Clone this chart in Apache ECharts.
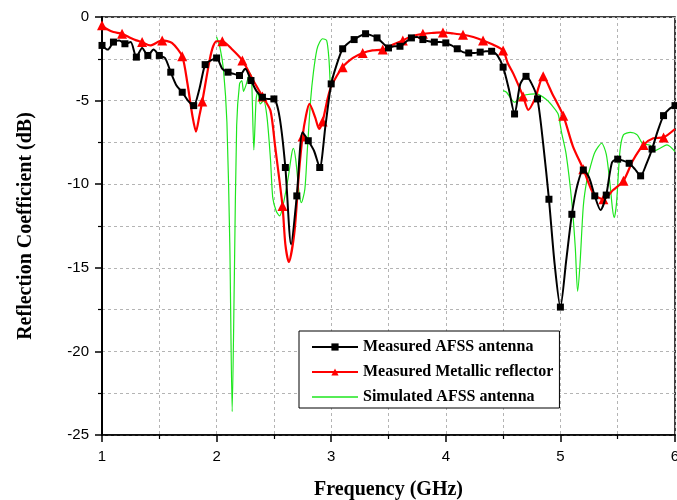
<!DOCTYPE html>
<html lang="en">
<head>
    <meta charset="UTF-8">
    <title>Reflection Coefficient</title>
    <script src="https://cdn.jsdelivr.net/npm/echarts@6/dist/echarts.min.js"></script>
    <style>
        html, body { margin: 0; padding: 0; background: #fff; }
    </style>
</head>
<body>
<div style="height: 500px;width: 677px" id="container"></div>
<script>
    // Measured AFSS antenna: 1.0 .. 6.0 GHz every 0.05, square marker every 0.1
    var blackStart = 1.0, blackStep = 0.05;
    var blackVal = [
        -1.7, -1.95, -1.5, -1.4, -1.6, -1.5, -2.4, -1.85, -2.3, -1.95,
        -2.3, -2.45, -3.3, -4.1, -4.5, -5.0, -5.3, -4.3, -2.85, -2.6,
        -2.45, -3.1, -3.3, -3.4, -3.5, -3.1, -3.8, -4.45, -4.8, -4.9,
        -4.9, -6.0, -9.0, -13.6, -10.7, -6.9, -7.4, -8.0, -9.0, -6.5,
        -4.0, -2.8, -1.9, -1.55, -1.35, -1.15, -1.0, -1.1, -1.25, -1.55,
        -1.85, -1.75, -1.75, -1.5, -1.25, -1.2, -1.35, -1.45, -1.5, -1.5,
        -1.55, -1.7, -1.9, -2.1, -2.15, -2.15, -2.1, -2.05, -2.05, -2.3,
        -3.0, -4.3, -5.8, -4.0, -3.55, -4.0, -4.9, -7.6, -10.9, -14.8,
        -17.35, -14.6, -11.8, -10.0, -9.15, -9.6, -10.7, -11.55, -10.65, -8.7,
        -8.5, -8.6, -8.75, -9.1, -9.5, -8.8, -7.9, -6.8, -5.9, -5.5,
        -5.3
    ];

    // Measured Metallic reflector, triangle marker every 0.175 GHz
    var redFreq = [
        1.0, 1.05, 1.1, 1.175, 1.25, 1.3, 1.35, 1.42, 1.525, 1.61,
        1.7, 1.745, 1.79, 1.82, 1.85, 1.875, 1.94, 1.97, 2.0, 2.05,
        2.13, 2.225, 2.32, 2.4, 2.47, 2.51, 2.575, 2.6, 2.63, 2.68,
        2.72, 2.75, 2.78, 2.81, 2.86, 2.895, 2.925, 2.97, 3.0, 3.1,
        3.19, 3.275, 3.36, 3.45, 3.54, 3.625, 3.7, 3.8, 3.89, 3.975,
        4.06, 4.15, 4.24, 4.325, 4.41, 4.5, 4.54, 4.59, 4.675, 4.72,
        4.78, 4.85, 4.93, 5.025, 5.11, 5.2, 5.29, 5.375, 5.46, 5.55,
        5.635, 5.725, 5.81, 5.9, 6.0
    ];
    var redVal = [
        -0.5, -0.75, -0.9, -1.0, -1.25, -1.4, -1.5, -1.7, -1.4, -1.55,
        -2.35, -3.95, -5.95, -6.85, -5.9, -5.05, -2.55, -1.75, -1.45, -1.45,
        -1.9, -2.6, -3.8, -4.75, -5.6, -7.7, -11.3, -13.6, -14.65, -12.8,
        -9.2, -7.15, -5.9, -5.2, -6.0, -6.7, -6.25, -4.85, -4.15, -3.0,
        -2.45, -2.15, -2.0, -1.95, -1.65, -1.4, -1.15, -1.0, -0.95, -0.92,
        -0.98, -1.06, -1.2, -1.4, -1.65, -2.0, -2.75, -3.4, -4.75, -5.55,
        -4.85, -3.55, -4.6, -5.9, -7.75, -9.1, -10.6, -10.9, -10.35, -9.8,
        -8.55, -7.65, -7.25, -7.2, -6.7
    ];

    // Simulated AFSS antenna ('-' marks the gap between 3.0 and 4.5 GHz)
    var greenFreq = [
        2.0, 2.03, 2.06, 2.09, 2.115, 2.136, 2.155, 2.175, 2.2, 2.22,
        2.235, 2.26, 2.29, 2.305, 2.325, 2.345, 2.36, 2.38, 2.41, 2.44,
        2.47, 2.49, 2.52, 2.55, 2.58, 2.625, 2.655, 2.67, 2.69, 2.72,
        2.74, 2.77, 2.79, 2.82, 2.845, 2.875, 2.9, 2.925, 2.96, 2.98,
        2.99, 3.5,
        4.5, 4.53, 4.6, 4.65, 4.7, 4.79, 4.88, 4.94, 4.98, 5.01,
        5.05, 5.1, 5.13, 5.15, 5.17, 5.2, 5.23, 5.26, 5.3, 5.36,
        5.4, 5.43, 5.455, 5.47, 5.49, 5.52, 5.55, 5.61, 5.67, 5.72,
        5.78, 5.82, 5.87, 5.93, 6.0
    ];
    var greenVal = [
        -1.2, -1.85, -3.15, -6.3, -13.5, -23.6, -15.5, -6.5, -4.0, -3.8,
        -4.45, -4.0, -3.35, -3.6, -7.95, -4.9, -4.45, -5.2, -5.0, -6.0,
        -8.5, -10.8, -11.6, -11.9, -11.25, -9.6, -8.2, -7.85, -8.5, -10.5,
        -11.1, -10.3, -8.15, -5.0, -3.3, -1.95, -1.5, -1.3, -1.4, -2.5,
        -3.8, '-',
        -4.4, -4.5, -5.1, -4.8, -4.65, -4.6, -4.95, -5.4, -5.8, -6.9,
        -8.2, -11.1, -13.8, -16.4, -14.9, -11.3, -9.8, -9.0, -8.1, -7.55,
        -8.2, -9.8, -11.5, -12.0, -11.1, -8.0, -7.05, -6.9, -7.05, -7.6,
        -7.65, -8.0, -7.85, -7.65, -8.05
    ];

    var xTicks = [1, 2, 3, 4, 5, 6];
    var yTicks = [0, -5, -10, -15, -20, -25];

    var blackData = [];
    for (var i = 0; i < blackVal.length; i++) {
        var f = +(blackStart + i * blackStep).toFixed(2);
        blackData.push({value: [f, blackVal[i]], symbol: i % 2 === 0 ? 'rect' : 'none'});
    }
    var redData = [];
    for (var j = 0; j < redFreq.length; j++) {
        var n = (redFreq[j] - 1) / 0.175;
        var mark = Math.abs(n - Math.round(n)) < 1e-6;
        redData.push({value: [redFreq[j], redVal[j]], symbol: mark ? 'triangle' : 'none'});
    }
    var greenData = [];
    for (var k = 0; k < greenFreq.length; k++) {
        greenData.push([greenFreq[k], greenVal[k]]);
    }

    var gridStyle = {color: '#b4b4b4', type: [3, 3], width: 1};
    var labelFont = {color: '#000', fontFamily: 'Liberation Sans', fontSize: 15};
    var nameFont = {color: '#000', fontFamily: 'Liberation Serif', fontSize: 20, fontWeight: 'bold'};

    var options = {
        animation: false,
        grid: {
            left: 102, right: 2, top: 17, bottom: 65,
            containLabel: false,
            outerBoundsMode: 'none',
            show: true, borderColor: '#000', borderWidth: 1.5
        },
        legend: {
            orient: 'vertical',
            left: 299,
            top: 331,
            padding: [8, 6, 3, 12],
            itemWidth: 46,
            itemHeight: 9,
            itemGap: 9,
            borderColor: '#000',
            borderWidth: 1,
            backgroundColor: '#fff',
            textStyle: {color: '#000', fontFamily: 'Liberation Serif', fontSize: 16, fontWeight: 'bold'},
            data: [
                {name: 'Measured AFSS antenna'},
                {name: 'Measured Metallic reflector'},
                {name: 'Simulated AFSS antenna', icon: 'path://M0,0H46V1.3H0Z'}
            ]
        },
        xAxis: {
            type: 'value',
            min: 1,
            max: 6,
            interval: 1,
            name: 'Frequency (GHz)',
            nameLocation: 'middle',
            nameGap: 45,
            nameTextStyle: nameFont,
            axisLine: {show: true, onZero: false, lineStyle: {color: '#000', width: 1.5}},
            axisTick: {show: true, inside: false, length: 7, lineStyle: {color: '#000', width: 1.5}},
            minorTick: {show: true, splitNumber: 2, length: 4, lineStyle: {color: '#000', width: 1.2}},
            axisLabel: Object.assign({margin: 14, formatter: function (v) {
                return xTicks.indexOf(v) >= 0 ? String(v) : '';
            }}, labelFont),
            splitLine: {show: true, lineStyle: gridStyle},
            minorSplitLine: {show: true, lineStyle: gridStyle}
        },
        yAxis: {
            type: 'value',
            min: -25,
            max: 0,
            interval: 5,
            name: 'Reflection Coefficient (dB)',
            nameLocation: 'middle',
            nameGap: 66,
            nameTextStyle: nameFont,
            axisLine: {show: true, onZero: false, lineStyle: {color: '#000', width: 2}},
            axisTick: {show: true, inside: false, length: 7, lineStyle: {color: '#000', width: 1.5}},
            minorTick: {show: true, splitNumber: 2, length: 4, lineStyle: {color: '#000', width: 1.2}},
            axisLabel: Object.assign({margin: 13, formatter: function (v) {
                return yTicks.indexOf(v) >= 0 ? String(v) : '';
            }}, labelFont),
            splitLine: {show: true, lineStyle: gridStyle},
            minorSplitLine: {show: true, lineStyle: gridStyle}
        },
        series: [
            {
                name: 'Simulated AFSS antenna',
                type: 'line',
                data: greenData,
                symbol: 'none',
                smooth: 0.25,
                z: 1,
                itemStyle: {color: '#1ee61e'},
                lineStyle: {color: '#1ee61e', width: 1.2}
            },
            {
                name: 'Measured Metallic reflector',
                type: 'line',
                data: redData,
                symbol: 'triangle',
                symbolSize: 10,
                showAllSymbol: true,
                smooth: 0.25,
                z: 2,
                itemStyle: {color: '#ff0000'},
                lineStyle: {color: '#ff0000', width: 2.2}
            },
            {
                name: 'Measured AFSS antenna',
                type: 'line',
                data: blackData,
                symbol: 'rect',
                symbolSize: 7,
                showAllSymbol: true,
                smooth: 0.25,
                z: 3,
                itemStyle: {color: '#000'},
                lineStyle: {color: '#000', width: 2}
            }
        ]
    };

    var myChart = echarts.init(document.getElementById('container'));
    myChart.setOption(options);
</script>
</body>
</html>
